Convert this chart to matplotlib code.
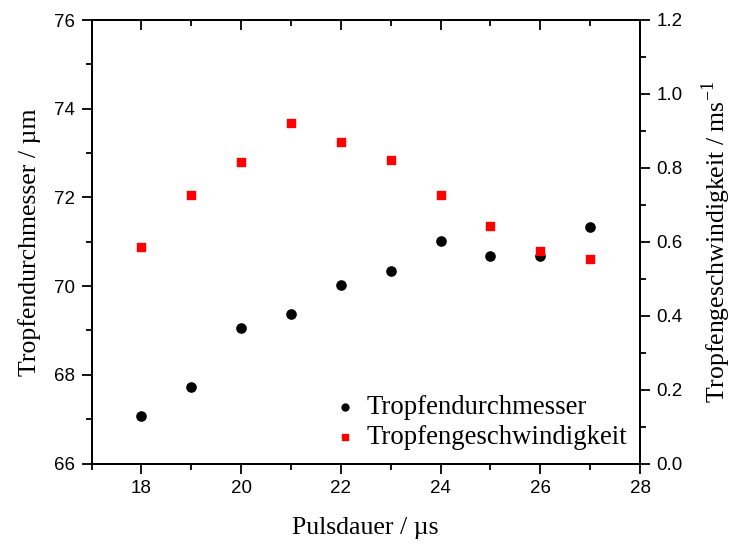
import matplotlib
matplotlib.use("Agg")
import matplotlib.pyplot as plt
from matplotlib.ticker import MultipleLocator

pulse = [18, 19, 20, 21, 22, 23, 24, 25, 26, 27]
diameter = [67.07, 67.72, 69.05, 69.37, 70.02, 70.35, 71.02, 70.68, 70.68, 71.34]
velocity = [0.586, 0.727, 0.816, 0.922, 0.870, 0.822, 0.727, 0.643, 0.576, 0.554]

serif = "Liberation Serif"
sans = "Liberation Sans"
plt.rcParams['mathtext.fontset'] = 'custom'
plt.rcParams['mathtext.rm'] = serif

fig = plt.figure(figsize=(7.32, 5.47), dpi=100)
ax = fig.add_axes([91.5/732, 1-463.5/547, (640-91.5)/732, (463.5-20)/547])
ax2 = ax.twinx()

ax.scatter(pulse, diameter, s=44, marker='o', color='black', label='Tropfendurchmesser', zorder=3)
ax2.scatter(pulse, velocity, s=34, marker='s', color='#ff0000', label='Tropfengeschwindigkeit', zorder=3)

ax.set_xlim(17, 28)
ax.set_ylim(66, 76)
ax2.set_ylim(0, 1.2)

ax.xaxis.set_major_locator(MultipleLocator(2))
ax.xaxis.set_minor_locator(MultipleLocator(1))
ax.yaxis.set_major_locator(MultipleLocator(2))
ax.yaxis.set_minor_locator(MultipleLocator(1))
ax2.set_yticks([0.0, 0.2, 0.4, 0.6, 0.8, 1.0, 1.2])
ax2.set_yticklabels(["0.0", "0.2", "0.4", "0.6", "0.8", "1.0", "1.2"])
ax2.yaxis.set_minor_locator(MultipleLocator(0.1))

for a in (ax, ax2):
    for sp in a.spines.values():
        sp.set_linewidth(1.3)

ax.tick_params(axis='x', which='both', direction='out', bottom=True, top=False, width=1.3)
ax.tick_params(axis='x', which='major', length=7)
ax.tick_params(axis='x', which='minor', length=4)
ax.tick_params(axis='y', which='both', direction='out', width=1.3)
ax.tick_params(axis='y', which='major', length=7)
ax.tick_params(axis='y', which='minor', length=4)
ax2.tick_params(axis='y', which='both', direction='out', width=1.3)
ax2.tick_params(axis='y', which='major', length=7)
ax2.tick_params(axis='y', which='minor', length=4)

sec = ax.secondary_xaxis('top')
sec.xaxis.set_major_locator(MultipleLocator(2))
sec.xaxis.set_minor_locator(MultipleLocator(1))
sec.tick_params(axis='x', which='both', direction='in', labeltop=False, width=1.3)
sec.tick_params(axis='x', which='major', length=7)
sec.tick_params(axis='x', which='minor', length=4)
sec.spines['top'].set_linewidth(1.3)

for lab in ax.get_xticklabels() + ax.get_yticklabels() + ax2.get_yticklabels():
    lab.set_fontfamily(sans)
    lab.set_fontsize(13.5)
ax.tick_params(axis='both', pad=5)
ax2.tick_params(axis='y', pad=5)

ax.set_xlabel("Pulsdauer / µs", fontfamily=serif, fontsize=18.5, labelpad=14)
ax.set_ylabel("Tropfendurchmesser / µm", fontfamily=serif, fontsize=18.5, labelpad=9)
ax2.set_ylabel("Tropfengeschwindigkeit / ms$^{\\mathrm{-1}}$", fontfamily=serif, fontsize=18.5, labelpad=12)

h1, l1 = ax.get_legend_handles_labels()
h2, l2 = ax2.get_legend_handles_labels()
leg = ax2.legend(h1 + h2, l1 + l2, loc='lower right', bbox_to_anchor=(1.02, -0.025),
                 frameon=False, prop={'family': serif, 'size': 19.3},
                 handlelength=1.3, handletextpad=0.15, labelspacing=0.2, markerscale=0.75)

fig.savefig("out.png", dpi=100)
